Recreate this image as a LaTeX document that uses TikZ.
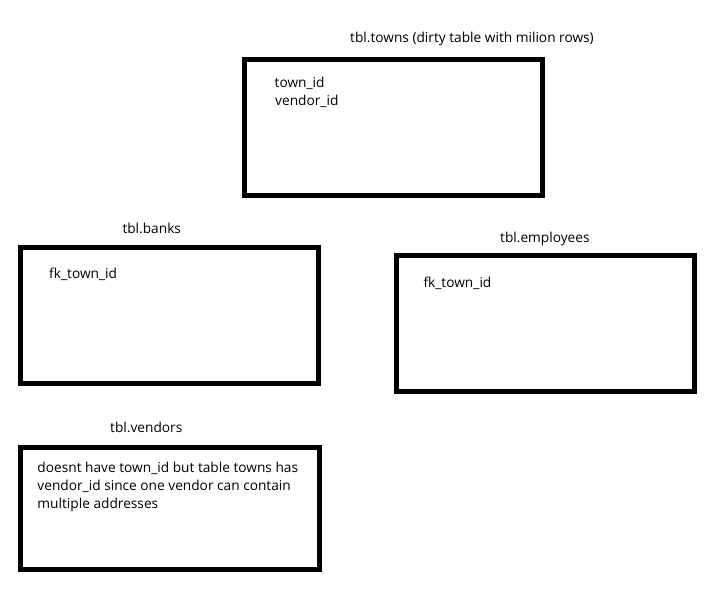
\documentclass[tikz,border=0pt]{standalone}
\usepackage{fontspec}
\setmainfont{Open Sans}
\begin{document}
\begin{tikzpicture}[x=1pt,y=-1pt,
  tbl/.style={draw=black, line width=5pt, inner sep=0pt, outer sep=0pt, fill=white},
  txt/.style={anchor=base west, inner sep=0pt, font=\fontsize{13.7}{16}\selectfont, text=black}]
\useasboundingbox[fill=white] (0,0) rectangle (721,602);
\node[tbl, minimum width=298pt, minimum height=136pt] (towns) at (393.5,127.5) {};
\node[tbl, minimum width=297.4pt, minimum height=135.5pt] (banks) at (169.5,315.25) {};
\node[tbl, minimum width=297.5pt, minimum height=135.2pt] (employees) at (545.25,323.4) {};
\node[tbl, minimum width=298.2pt, minimum height=121.5pt] (vendors) at (169.9,508.25) {};
\node[txt] (townsT) at (350,42.5) {tbl.towns (dirty table with milion rows)};
\node[txt] (townsA) at (274.5,87.5) {town\_id};
\node[txt] (townsB) at (275,105.5) {vendor\_id};
\node[txt] (banksT) at (122.3,233.2) {tbl.banks};
\node[txt] (banksA) at (49,278.2) {fk\_town\_id};
\node[txt] (empT) at (500,242.2) {tbl.employees};
\node[txt] (empA) at (423.3,287.2) {fk\_town\_id};
\node[txt] (vendT) at (110,432.2) {tbl.vendors};
\node[txt] (vendA) at (37.3,472.5) {doesnt have town\_id but table towns has};
\node[txt] (vendB) at (37.3,490.5) {vendor\_id since one vendor can contain};
\node[txt] (vendC) at (37.3,508.5) {multiple addresses};
\end{tikzpicture}
\end{document}
